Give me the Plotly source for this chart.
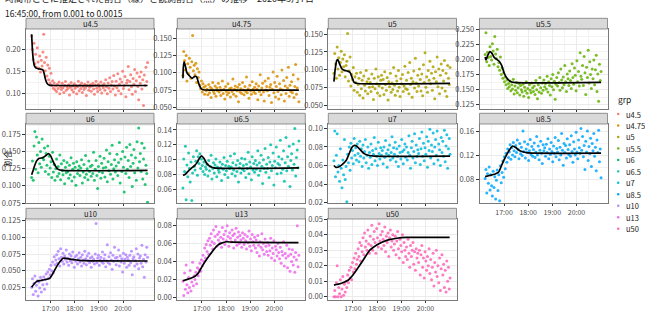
import pandas as pd
import plotly.graph_objects as go

DATE = "2020-03-07"
FONT = "Noto Sans CJK JP"

groups = ["u4.5", "u4.75", "u5", "u5.5", "u6", "u6.5", "u7", "u8.5", "u10", "u13", "u50"]
colors = ["#F8766D", "#DB8E00", "#AEA200", "#64B200", "#00BD5C", "#00C1A7",
          "#00BADE", "#00A6FF", "#B385FF", "#EF67EB", "#FF63B6"]

# observation times: one reading every 2 minutes
obs_times = pd.date_range(f"{DATE} 16:13", periods=145, freq="2min")

# observed shares (units of 0.001), per group
obs_u45 = [232,201,178,215,168,190,160,205,172,158,186,149,176,163,195,
           236,171,152,183,140,165,131,158,124,146,118,129,112,124,108,
           117,104,121,111,126,99,115,109,123,113,102,118,127,107,116,
           111,120,96,114,125,108,117,103,122,112,118,99,115,128,106,
           119,111,124,102,116,109,121,113,95,118,126,107,114,120,105,
           117,123,110,98,119,128,112,104,121,115,109,126,101,118,113,
           122,107,131,115,99,124,112,136,104,119,127,110,141,117,96,
           128,113,145,106,121,133,99,126,151,111,118,139,92,124,130,
           162,108,127,143,115,98,134,121,155,104,129,147,116,85,138,
           123,149,110,131,72,142,118,160,127,171]
obs_u475 = [96,131,118,104,125,88,113,99,121,108,92,116,154,103,111,
            97,114,86,106,93,101,82,77,88,72,84,79,69,81,74,
            76,68,83,71,79,64,77,86,73,70,81,66,78,74,85,
            72,79,67,75,88,70,76,62,80,73,68,84,71,77,65,
            78,73,91,69,76,81,66,74,79,58,83,72,77,70,86,
            75,68,80,73,94,71,77,63,82,74,69,87,76,72,79,
            70,84,76,61,81,73,97,68,78,85,72,59,88,75,80,
            74,92,67,79,83,57,76,101,71,86,65,80,95,73,62,
            84,77,68,104,75,89,59,81,70,93,78,108,66,82,73,
            87,71,97,64,80,112,69,78,91,58]
obs_u5 = [95,123,108,88,132,101,117,92,110,126,97,115,104,121,90,
          106,112,151,84,98,118,77,93,86,103,71,90,82,95,68,
          79,88,64,96,73,85,60,91,78,70,99,83,66,87,75,
          82,69,94,76,58,88,73,101,80,67,90,77,63,85,92,
          74,86,65,97,79,71,89,57,83,76,95,68,81,72,103,
          78,64,91,84,70,99,75,62,87,80,93,69,77,105,73,
          85,72,96,66,110,79,88,61,83,98,74,116,81,69,92,
          77,101,86,70,94,63,107,82,124,75,90,68,99,85,112,
          80,95,71,104,88,59,97,83,118,76,101,66,92,108,74,
          99,84,113,70,95,62,106,88,79,103]
obs_u55 = [208,244,196,212,203,190,221,205,199,226,214,192,238,209,201,
           217,188,195,182,204,175,186,169,178,163,171,158,166,152,160,
           155,164,148,158,151,167,143,156,149,162,145,153,160,141,157,
           150,146,159,139,154,148,163,144,152,137,158,149,145,161,153,
           147,156,142,165,150,135,158,146,170,153,144,161,149,166,155,
           160,151,172,146,163,157,141,168,155,175,150,164,134,159,170,
           156,178,162,149,184,166,153,171,158,190,163,147,176,168,157,
           181,165,152,193,170,159,186,174,148,198,163,180,156,211,172,
           167,190,157,205,178,142,187,170,215,161,196,175,152,184,168,
           199,158,183,207,147,176,131,192,165,180]
obs_u6 = [112,136,108,158,179,124,171,145,119,163,132,150,127,168,141,
          138,155,121,147,130,158,117,143,126,135,112,149,120,131,108,
          125,139,114,128,118,145,109,132,122,116,137,103,127,119,134,
          121,111,130,116,141,107,124,133,113,127,101,135,118,123,129,
          115,126,138,104,120,131,112,144,117,125,109,136,121,128,114,
          130,118,149,108,124,137,115,96,128,121,143,111,133,119,126,
          140,113,127,152,106,135,122,147,117,131,159,110,125,138,120,
          129,146,115,134,163,104,139,121,150,127,91,142,118,156,124,
          137,112,160,128,145,99,133,153,119,141,108,164,126,184,135,
          147,121,162,110,139,155,102,130,118,76]
obs_u65 = [62,101,84,118,46,93,77,109,88,70,97,45,82,104,91,
           86,98,112,79,104,95,108,88,101,92,84,97,80,90,87,
           94,78,99,85,91,106,74,88,96,82,93,101,77,90,86,
           83,97,89,72,94,87,103,80,92,85,98,76,91,88,105,
           90,81,96,86,108,78,93,84,99,70,89,95,82,102,87,
           92,85,101,76,94,88,110,81,97,90,73,104,86,95,83,
           99,87,93,112,79,96,85,106,91,68,100,88,115,83,94,
           88,103,76,97,120,85,92,109,66,98,89,117,81,95,104,
           93,126,82,101,87,112,71,96,130,85,104,91,118,64,99,
           108,86,121,94,142,78,103,113,89,125]
obs_u7 = [65,97,48,71,94,53,60,43,78,57,36,66,50,88,45,
          59,21,72,63,80,55,84,68,76,62,89,71,79,66,83,
          73,64,86,70,78,59,82,68,75,88,63,71,80,57,74,
          69,83,61,76,72,90,65,78,70,60,85,73,67,79,71,
          76,62,80,69,87,73,58,77,71,82,66,74,91,68,79,
          72,85,64,78,70,59,81,74,67,88,75,62,77,83,69,
          80,66,74,92,71,57,79,86,68,75,94,63,82,70,77,
          73,89,61,78,96,70,84,65,79,72,91,58,86,76,99,
          68,82,75,95,62,80,88,71,97,66,83,77,60,90,74,
          86,70,98,64,81,93,57,78,89,72]
obs_u85 = [82,97,58,90,74,101,63,88,70,53,94,67,85,48,79,
           96,62,88,45,103,75,92,111,84,118,98,124,109,131,117,
           126,138,114,133,121,142,128,118,137,125,146,130,115,140,123,
           134,120,161,127,143,116,131,125,139,112,128,147,122,135,119,
           130,141,117,126,152,121,136,113,129,144,124,107,138,128,133,
           119,139,125,148,115,131,122,142,127,110,136,124,150,118,132,
           126,145,113,134,121,157,129,104,140,125,137,116,148,130,122,
           138,119,153,127,109,143,131,121,159,126,115,146,133,124,165,
           129,152,118,137,97,144,126,161,112,135,123,149,102,140,128,
           157,119,134,95,146,125,162,110,131,83]
obs_u10 = [25,38,14,31,42,19,28,35,12,33,24,40,18,36,29,
           41,22,37,45,30,48,39,52,44,58,50,63,47,71,59,
           66,74,61,79,68,57,83,70,64,76,60,72,67,81,63,
           69,58,75,65,72,62,78,67,55,71,64,73,60,68,77,
           63,70,57,74,66,61,79,68,59,72,65,76,62,69,55,
           71,64,67,60,75,121,62,69,73,58,66,70,63,78,61,
           68,74,56,65,89,62,71,60,77,66,52,73,64,85,69,
           59,70,65,81,57,72,63,68,48,76,61,67,74,55,70,
           66,58,73,62,79,44,68,71,57,65,83,60,75,53,69,
           72,61,88,56,67,40,74,63,85,70]
obs_u13 = [18,2,27,9,36,14,5,22,11,30,7,17,39,13,24,
           20,28,15,33,24,31,38,29,42,35,47,40,55,44,59,
           51,63,48,66,58,71,62,54,75,60,68,79,57,70,64,
           73,61,67,56,78,65,70,59,74,63,80,68,57,72,66,
           62,75,69,55,71,64,77,58,67,73,60,69,64,56,72,
           66,59,70,63,54,68,61,74,57,65,52,70,62,58,67,
           55,64,50,69,58,46,62,56,71,53,60,48,65,57,51,
           61,47,58,52,66,44,55,49,63,41,57,53,46,60,50,
           43,56,38,51,47,62,35,49,44,58,33,46,54,29,48,
           40,53,36,45,28,50,42,80,34,47]
obs_u50 = [0,4,0,9,20,0,6,2,11,0,5,13,1,8,3,
           10,6,14,9,17,12,19,11,22,16,25,18,28,21,24,
           31,26,35,23,33,29,38,27,41,32,36,30,43,34,28,
           39,33,46,30,37,42,35,28,44,38,32,47,36,40,31,
           42,37,33,45,29,39,35,41,26,38,43,32,36,40,30,
           34,39,27,36,42,31,25,37,33,29,40,22,35,30,26,
           32,24,37,28,19,33,26,30,35,21,29,17,31,25,28,
           22,30,14,27,33,19,25,12,29,23,17,26,20,31,15,
           24,11,19,28,7,22,16,30,13,20,9,25,4,18,27,
           14,21,6,17,3,23,10,19,5,12]

# estimated share (black curve), units of 0.001
fit_t_u45 = ["16:13","16:15","16:17","16:20","16:24","16:33","16:41","16:44","16:48","16:52","16:57","17:12","21:01"]
fit_v_u45 = [236,200,178,163,158,156,154,146,130,122,119,118,118]
fit_t_u475 = ["16:13","16:14","16:16","16:19","16:23","16:30","16:36","16:43","16:47","16:52","16:57","17:03","17:18","21:01"]
fit_v_u475 = [92,108,116,110,100,95,92,95,94,85,78,75.5,75,75]
fit_t_u5 = ["16:13","16:16","16:20","16:23","16:27","16:33","16:39","16:47","16:53","16:58","17:03","17:12","21:01"]
fit_v_u5 = [83,100,113,114,108,101,99,98,96,89,82,80.5,80.5]
fit_t_u55 = ["16:13","16:15","16:19","16:25","16:30","16:36","16:42","16:48","16:54","17:00","17:06","17:15","17:24","21:01"]
fit_v_u55 = [204,199,206,213,210,203,200,197,190,178,170,164,162,162]
fit_t_u6 = ["16:13","16:18","16:25","16:32","16:41","16:48","16:55","17:00","17:06","17:12","17:19","17:30","21:01"]
fit_v_u6 = [116,125,136,140,141,144,147,144,136,129,124,122.5,122.5]
fit_t_u65 = ["16:13","16:18","16:25","16:33","16:42","16:48","16:54","16:59","17:05","17:12","17:20","17:30","21:01"]
fit_v_u65 = [79,80,84,88,92,96,102,105,102,95,91,89,89]
fit_t_u7 = ["16:13","16:18","16:27","16:36","16:44","16:51","16:57","17:03","17:09","17:18","17:27","17:38","17:54","21:01"]
fit_v_u7 = [60,58,59,62,66,73,79,81.5,81,77,73,71,70,70]
fit_t_u85 = ["16:13","16:24","16:36","16:46","16:54","17:03","17:12","17:21","17:30","17:39","17:48","18:00","21:01"]
fit_v_u85 = [85,87,89,92,104,117,128,136,133,128,126,124.5,124]
fit_t_u10 = ["16:13","16:19","16:25","16:33","16:41","16:51","16:58","17:06","17:15","17:24","17:31","17:39","17:51","18:05","18:24","21:01"]
fit_v_u10 = [25,30,33.5,35,36,37,38.5,46,56,64,68.5,68.5,67,66,65,64.5]
fit_t_u13 = ["16:13","16:24","16:34","16:43","16:51","17:00","17:09","17:20","17:30","17:39","17:49","18:01","18:18","21:00"]
fit_v_u13 = [18.5,20,21.5,23.5,27,34,40.5,47.5,53.5,58,60.5,62,61.5,61]
fit_t_u50 = ["16:13","16:30","16:49","16:57","17:09","17:24","17:42","18:00","18:15","18:30","18:49","19:12","21:00"]
fit_v_u50 = [7.5,8.5,10.8,13,17.2,23,30,33.5,35.5,36.8,37.7,38.2,38.3]

obs_all = [obs_u45, obs_u475, obs_u5, obs_u55, obs_u6, obs_u65, obs_u7, obs_u85, obs_u10, obs_u13, obs_u50]
fit_t_all = [fit_t_u45, fit_t_u475, fit_t_u5, fit_t_u55, fit_t_u6, fit_t_u65, fit_t_u7, fit_t_u85, fit_t_u10, fit_t_u13, fit_t_u50]
fit_v_all = [fit_v_u45, fit_v_u475, fit_v_u5, fit_v_u55, fit_v_u6, fit_v_u65, fit_v_u7, fit_v_u85, fit_v_u10, fit_v_u13, fit_v_u50]

x_tick_labels = ["17:00", "18:00", "19:00", "20:00"]
title_line1 = "時間帯ごとに推定された割合（線）と観測割合（点）の推移　2020年3月7日"
title_line2 = "16:45:00, from 0.001 to 0.0015"
y_title = "割合"

# ---- styling / layout ----
W, H = 645, 313
col_px = [(26, 154), (177.3, 305.3), (328.3, 456.5), (479.5, 607.5)]
row_px = [(29, 109), (124, 203.3), (219, 300)]
strip_h = 10.7
y_ranges = [(0.064, 0.248), (0.0475, 0.1635), (0.0444, 0.1575), (0.118, 0.2503),
            (0.0746, 0.190), (0.0413, 0.148), (0.0194, 0.1046), (0.0407, 0.1726),
            (0.0059, 0.1276), (-0.003, 0.0874), (-0.0021, 0.0501)]
y_dticks = [0.05, 0.025, 0.025, 0.025, 0.025, 0.02, 0.02, 0.04, 0.025, 0.02, 0.01]
y_formats = [".2f", ".3f", ".3f", ".3f", ".3f", ".2f", ".2f", ".2f", ".3f", ".2f", ".2f"]
x_range = [f"{DATE} 15:59", f"{DATE} 21:17"]
x_major = [f"{DATE} {s}" for s in x_tick_labels]
x_minor = [f"{DATE} {s}" for s in ["16:30", "17:30", "18:30", "19:30", "20:30"]]
bottom_panels = {7, 8, 9, 10}

def px_x(p):
    return p / W

def px_y(p):
    return 1 - p / H

fig = go.Figure()
layout = dict(width=W, height=H, margin=dict(l=0, r=0, t=0, b=0, autoexpand=False),
              paper_bgcolor="white", plot_bgcolor="white", showlegend=False,
              font=dict(family=FONT, size=8, color="#4D4D4D"))
shapes, annotations = [], []
GRID = "#EBEBEB"
BORDER = "#7A7A7A"

for k, g in enumerate(groups):
    r, c = divmod(k, 4)
    x0, x1 = col_px[c]
    y0, y1 = row_px[r]
    sfx = "" if k == 0 else str(k + 1)
    xa, ya = "x" + sfx, "y" + sfx
    fig.add_trace(go.Scatter(
        x=obs_times, y=[v / 1000 for v in obs_all[k]], mode="markers",
        marker=dict(color=colors[k], size=3, opacity=0.85, line=dict(width=0)),
        xaxis=xa, yaxis=ya, name=g, hoverinfo="skip"))
    fig.add_trace(go.Scatter(
        x=[f"{DATE} {t}" for t in fit_t_all[k]], y=[v / 1000 for v in fit_v_all[k]],
        mode="lines", line=dict(color="black", width=1.7, shape="spline", smoothing=0.6),
        xaxis=xa, yaxis=ya, hoverinfo="skip"))
    layout["xaxis" + sfx] = dict(
        domain=[px_x(x0), px_x(x1)], anchor=ya, type="date", range=x_range,
        tickmode="array", tickvals=x_major, ticktext=x_tick_labels,
        showticklabels=k in bottom_panels, ticks="outside", ticklen=2, tickwidth=0.6,
        tickcolor="#333333", tickfont=dict(size=7, color="#4D4D4D", family=FONT),
        ticklabelstandoff=0,
        showgrid=True, gridcolor=GRID, gridwidth=0.9, zeroline=False,
        showline=True, mirror=True, linecolor=BORDER, linewidth=0.8,
        minor=dict(tickmode="array", tickvals=x_minor, showgrid=True, gridcolor="#F3F3F3", gridwidth=0.5, ticks=""))
    layout["yaxis" + sfx] = dict(
        domain=[px_y(y1), px_y(y0)], anchor=xa, range=list(y_ranges[k]),
        tick0=0, dtick=y_dticks[k], tickformat=y_formats[k],
        ticks="outside", ticklen=3, tickwidth=0.6, tickcolor="#333333",
        tickfont=dict(size=7.5, color="#4D4D4D", family=FONT),
        showgrid=True, gridcolor=GRID, gridwidth=0.9, zeroline=False,
        showline=True, mirror=True, linecolor=BORDER, linewidth=0.8,
        minor=dict(dtick=y_dticks[k] / 2, tick0=0, showgrid=True, gridcolor="#F3F3F3", gridwidth=0.5, ticks=""))
    # strip
    shapes.append(dict(type="rect", xref="paper", yref="paper",
                       x0=px_x(x0), x1=px_x(x1), y0=px_y(y0), y1=px_y(y0 - strip_h),
                       fillcolor="#D9D9D9", line=dict(color=BORDER, width=0.8), layer="above"))
    annotations.append(dict(x=px_x((x0 + x1) / 2), y=px_y(y0 - strip_h / 2), xref="paper", yref="paper",
                            text=g, showarrow=False, font=dict(size=7.5, color="#1A1A1A", family=FONT),
                            xanchor="center", yanchor="middle"))

# titles (first line runs off the top edge, as in the source image)
annotations.append(dict(x=px_x(3), y=px_y(-1.5), xref="paper", yref="paper", text=title_line1,
                        showarrow=False, xanchor="left", yanchor="middle",
                        font=dict(size=9, color="#1A1A1A", family=FONT)))
annotations.append(dict(x=px_x(3), y=px_y(12.5), xref="paper", yref="paper", text=title_line2,
                        showarrow=False, xanchor="left", yanchor="middle",
                        font=dict(size=8.5, color="#1A1A1A", family=FONT)))
annotations.append(dict(x=px_x(7), y=px_y(158), xref="paper", yref="paper", text=y_title,
                        showarrow=False, textangle=-90, xanchor="center", yanchor="middle",
                        font=dict(size=8.5, color="#1A1A1A", family=FONT)))

# legend (manual, ggplot style)
annotations.append(dict(x=px_x(616), y=px_y(99), xref="paper", yref="paper", text="grp",
                        showarrow=False, xanchor="left", yanchor="middle",
                        font=dict(size=8.5, color="#1A1A1A", family=FONT)))
for k, g in enumerate(groups):
    yy = 114 + 11.47 * k
    shapes.append(dict(type="circle", xref="paper", yref="paper",
                       x0=px_x(617), x1=px_x(619.4), y0=px_y(yy + 1.2), y1=px_y(yy - 1.2),
                       fillcolor=colors[k], line=dict(width=0)))
    annotations.append(dict(x=px_x(624), y=px_y(yy), xref="paper", yref="paper", text=g,
                            showarrow=False, xanchor="left", yanchor="middle",
                            font=dict(size=7.5, color="#1A1A1A", family=FONT)))

layout["shapes"] = shapes
layout["annotations"] = annotations
fig.update_layout(**layout)
fig.write_html("out.html")
